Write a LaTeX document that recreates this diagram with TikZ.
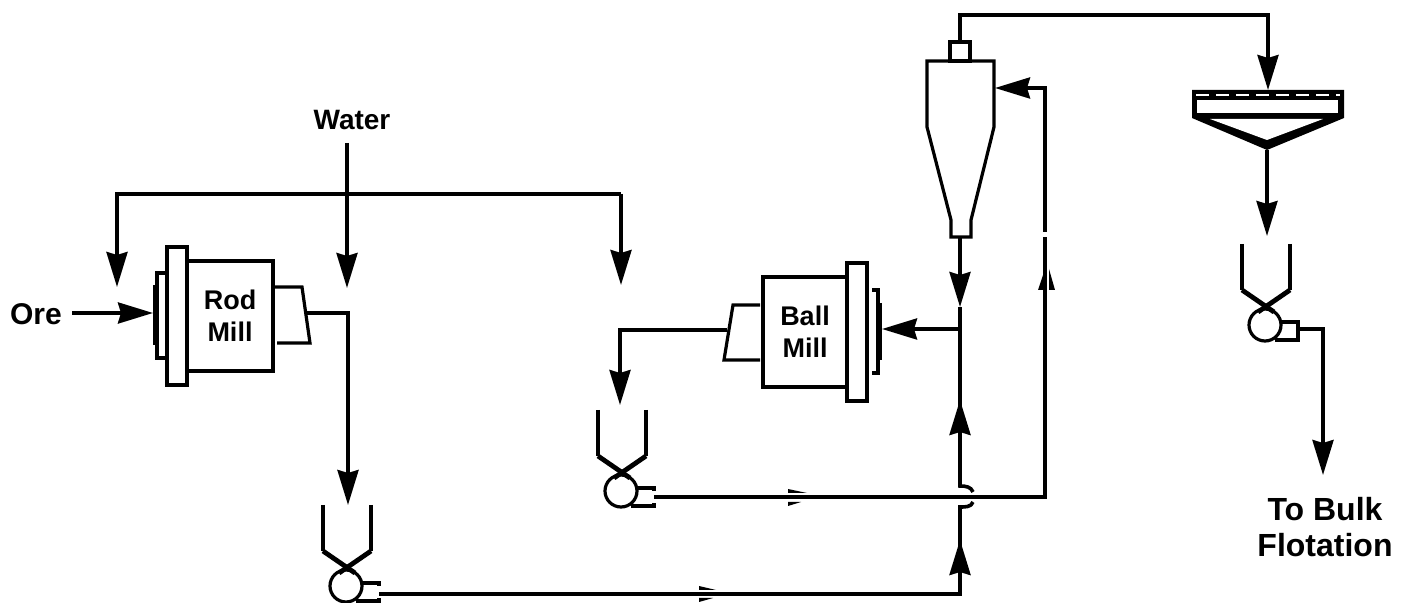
\documentclass[tikz,border=0pt]{standalone}
\usepackage{fontspec}
\setmainfont{Liberation Sans}
\usetikzlibrary{arrows.meta}

\tikzset{
  pipe/.style={line width=1.8pt, line join=miter},
  flow/.style={pipe, -{Stealth[length=17.5pt,width=10.5pt,inset=1.5pt]}},
  vessel/.style={line width=1.6pt},
  heavy/.style={line width=2.4pt},
  tag/.style={font=\bfseries\fontsize{16}{18}\selectfont, align=center, inner sep=0pt},
  millbody/.style={draw, line width=1.6pt, inner sep=0pt, align=center, font=\bfseries\fontsize{13.5}{16}\selectfont},
  sliver/.style={fill=black, draw=none},
}

\begin{document}
\begin{tikzpicture}[x=0.5pt, y=-0.5pt]
  % Keep the proportions of the sheet
  \useasboundingbox (0,0) rectangle (1403,603);

  % Labels
  \node[tag, font=\bfseries\fontsize{15}{18}\selectfont] (ore) at (36,314) {Ore};
  \node[tag, font=\bfseries\fontsize{14}{16}\selectfont] (water) at (352,120) {Water};
  \node[tag] (bulk) at (1325,527) {To Bulk\\Flotation};

  % The two mills
  \node[millbody, minimum width=43pt, minimum height=55pt] (rodmill) at (230,316) {Rod\\Mill};
  \node[millbody, minimum width=42pt, minimum height=55pt] (ballmill) at (805,332) {Ball\\Mill};
  \node[draw, line width=1.6pt, minimum width=10pt, minimum height=69pt, inner sep=0pt] (rodflange) at (177,316) {};
  \node[draw, line width=1.6pt, minimum width=10pt, minimum height=69pt, inner sep=0pt] (ballflange) at (857,332) {};

  % Feed and discharge ends of the mills
  \draw[vessel] (167,273) -- (157,273) -- (157,358) -- (167,358);
  \draw[heavy] (155,285) -- (155,345);
  \draw[vessel] (273,287) -- (302,287) -- (310,343) -- (277,343);
  \draw[vessel] (872,290) -- (878,290) -- (878,373) -- (872,373);
  \draw[heavy] (880,303) -- (880,360);
  \draw[vessel] (760,305) -- (733,305) -- (724,360) -- (760,360);

  % Hoppers with their pumps
  \foreach \name/\x/\y/\drop in {pumpa/346/586/8, pumpb/621/491/6, pumpc/1265/325/4} {
    \node[draw, circle, line width=1.6pt, minimum size=16pt, inner sep=0pt] (\name) at (\x,\y) {};
    \draw[vessel] (\x-23,\y-81) -- (\x-23,\y-35);
    \draw[vessel] (\x+25,\y-81) -- (\x+25,\y-35);
    \draw[heavy] (\x-23,\y-35) -- (\x+9,\y-13);
    \draw[heavy] (\x+25,\y-35) -- (\x-7,\y-13);
    \draw[vessel] (\x+16,\y-3) -- (\x+33,\y-3) -- (\x+33,\y);
    \draw[vessel] (\x+10,\y+15) -- (\x+33,\y+15) -- (\x+33,\y+12);
    \coordinate (out\name) at (\x+33,\y+\drop);
  }
  % Only the last pump has a closed outlet
  \draw[vessel] (outpumpc) ++(0,-6) -- ++(0,14);

  % Cyclone
  \node[draw, line width=1.6pt, minimum width=10pt, minimum height=9.5pt, inner sep=0pt] (vortex) at (960,51.5) {};
  \draw[vessel] (927,61) -- (994,61) -- (994,127) -- (971,220) -- (971,237) -- (951,237) -- (951,220) -- (927,127) -- cycle;
  \coordinate (apex) at (960,237);

  % Thickener
  \fill (1192,90) -- (1344,90) -- (1344,118) -- (1267,150) -- (1192,118) -- cycle;
  \fill[white] (1197,100) rectangle (1338,113);
  \fill[white] (1210,119) -- (1323,119) -- (1267,140) -- cycle;
  \draw[white, line width=1pt, dash pattern=on 6.5pt off 3.5pt] (1196,95.5) -- (1340,95.5);
  \coordinate (thickfeed) at (1268,90);
  \coordinate (thickout) at (1267,150);

  % Named turning points of the lines
  \coordinate (orefoot) at (72,313);
  \coordinate (oretip) at (153,313);
  \coordinate (loopa) at (117,194);
  \coordinate (loopb) at (621,194);
  \coordinate (rodout) at (306,313);
  \coordinate (ballout) at (727,330);
  \coordinate (tee) at (960,329);
  \coordinate (riser) at (960,594);
  \coordinate (feedcorner) at (1045,497);
  \coordinate (feedtop) at (1045,88);
  \coordinate (cyclonein) at (995,88);

  % Ore, water and the split stream
  \draw[flow] (orefoot) -- (oretip);
  \draw[flow] (347,143) -- (347,288);
  \draw[flow] (loopb) -- (loopa) -- (117,287);
  \draw[flow] (loopb) -- (621,285);

  % Rod mill to the first pump, ball mill to the second
  \draw[flow] (rodout) -- (348,313) -- (348,505);
  \draw[flow] (ballout) -- (620,330) -- (620,405);

  % First pump up to the cyclone, hopping over the return line
  \draw[pipe] (outpumpa) -- (riser) -- (960,540);
  \draw[flow] (960,575) -- (960,540);
  \draw[pipe] (960,540) -- (960,507) to[out=0,in=-110] (973,502);
  \draw[pipe] (973,492) to[out=110,in=0] (960,486) -- (960,400);
  \draw[flow] (960,435) -- (960,400);
  \draw[pipe] (960,400) -- (tee);
  \draw[flow] (tee) -- (882,329);
  \draw[flow] (apex) -- (960,307);
  \draw[pipe] (960,307) -- (tee);

  % Second pump back to the cyclone
  \draw[pipe] (outpumpb) -- (feedcorner) -- (1045,237);
  \draw[flow] (1045,232) -- (feedtop) -- (cyclonein);
  \fill[sliver] (788,489) -- (807,493) -- (788,493) -- cycle;
  \fill[sliver] (788,506) -- (788,502) -- (801,502) -- cycle;
  \fill[sliver] (699,586) -- (716,590) -- (699,590) -- cycle;
  \fill[sliver] (699,602) -- (699,598) -- (713,598) -- cycle;
  \fill[sliver] (1049,269) -- (1055,290) -- (1049,290) -- cycle;
  \fill[sliver] (1043,275) -- (1043,290) -- (1038,290) -- cycle;

  % Overflow to the thickener and on to flotation
  \draw[flow] (vortex.north) -- (960,15) -- (1268,15) -- (thickfeed);
  \draw[flow] (thickout) -- (1267,236);
  \draw[flow] (outpumpc) -- (1323,329) -- (1323,475);
\end{tikzpicture}
\end{document}
